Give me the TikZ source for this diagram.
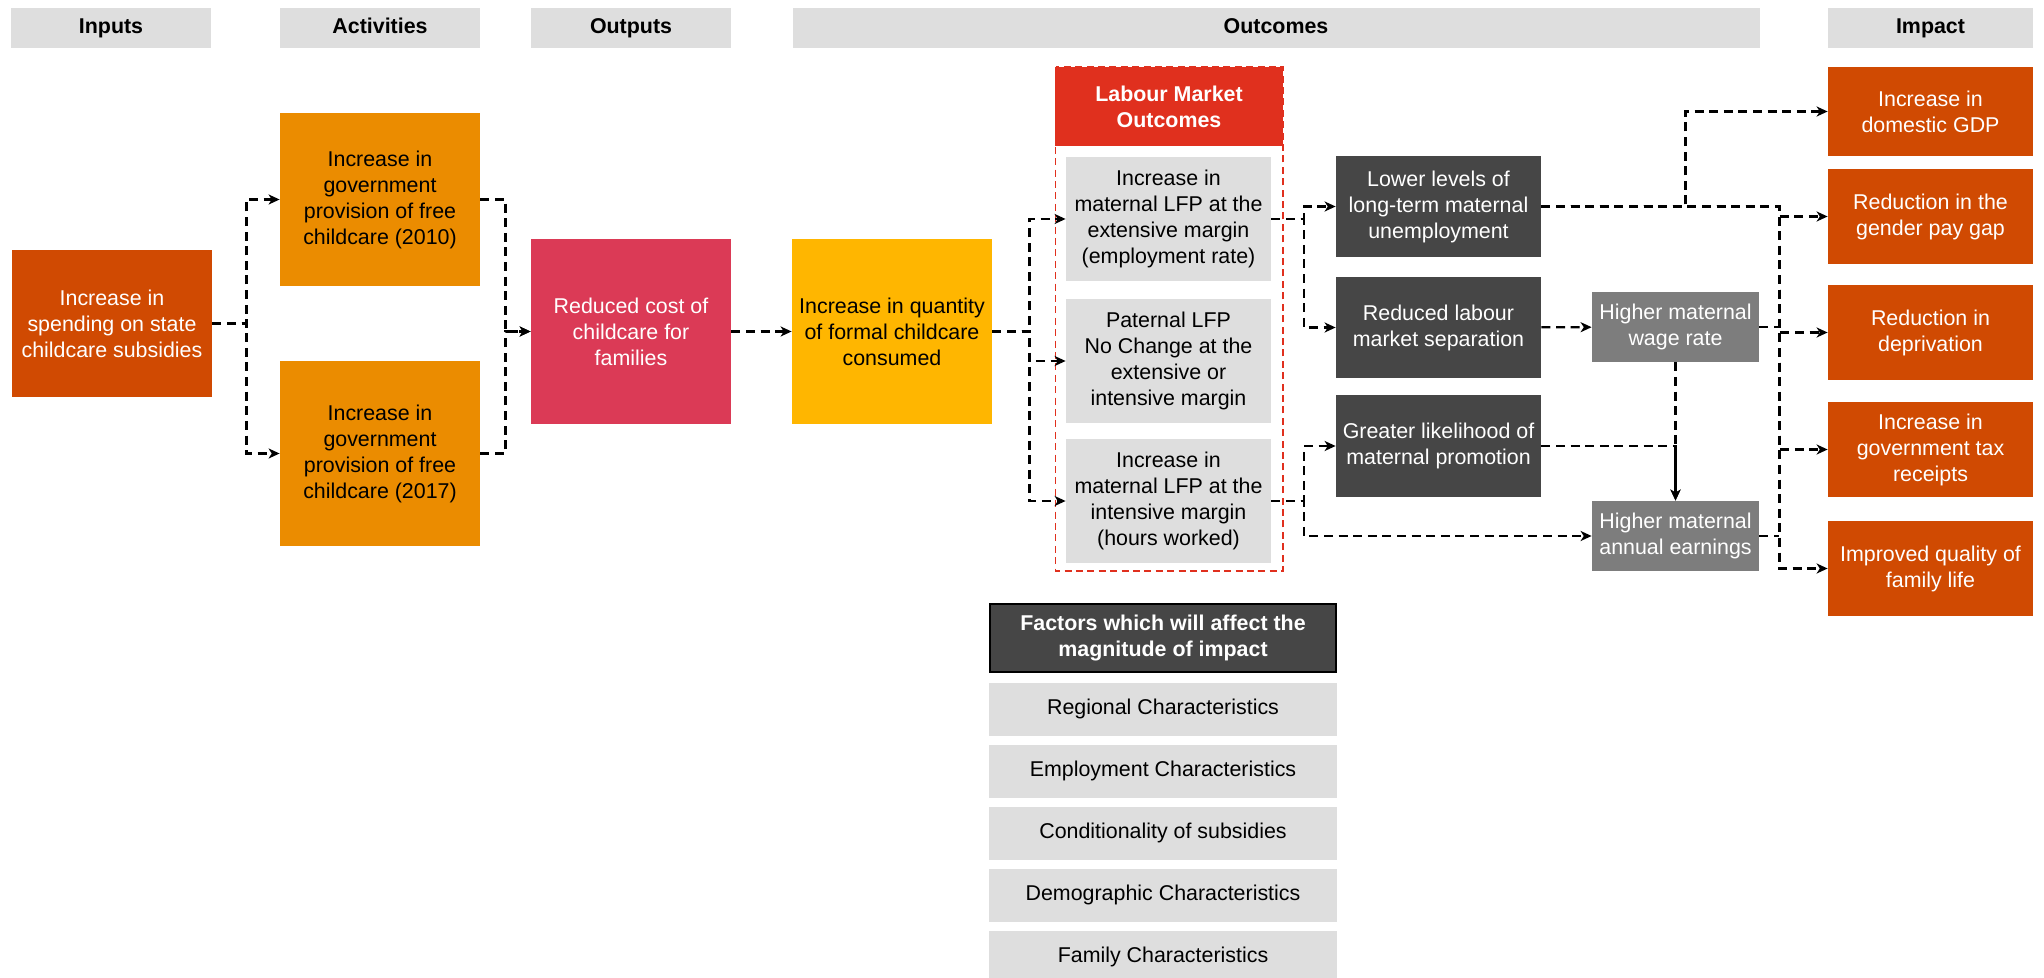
\documentclass[tikz,border=0pt]{standalone}
\usepackage{fontspec}
\setmainfont{Liberation Sans}
\usetikzlibrary{arrows.meta}
\usetikzlibrary{positioning}

\definecolor{hdgrey}{HTML}{DEDEDE}
\definecolor{pwcorange}{HTML}{D04A02}
\definecolor{pwctangerine}{HTML}{EB8C00}
\definecolor{pwcrose}{HTML}{DB3A56}
\definecolor{pwcyellow}{HTML}{FFB600}
\definecolor{pwcred}{HTML}{E0301E}
\definecolor{darkgrey}{HTML}{464646}
\definecolor{midgrey}{HTML}{7D7D7D}

\begin{document}
\begin{tikzpicture}[x=0.5pt, y=-0.5pt,
    every node/.style={align=center, inner sep=0pt, font=\fontsize{10.7}{13}\selectfont},
    wh/.style 2 args={minimum width=#1, minimum height=#2},
    head/.style={fill=hdgrey, minimum height=20pt, text height=8pt, text depth=2.2pt,
        font=\fontsize{10.7}{13}\selectfont\bfseries},
    inbox/.style={fill=pwcorange, text=white},
    actbox/.style={fill=pwctangerine, text=black},
    lfpbox/.style={fill=hdgrey, text=black, wh={102.5pt}{62pt}},
    darkbox/.style={fill=darkgrey, text=white, wh={102.5pt}{50.5pt}},
    greybox/.style={fill=midgrey, text=white, wh={83.5pt}{35pt}},
    impbox/.style={fill=pwcorange, text=white, minimum width=102.5pt},
    flow/.style={line width=1.2pt, dash pattern=on 4.5pt off 2.8pt,
        -{Stealth[length=5.5pt, width=5pt, inset=1.6pt]}},
    link/.style={line width=1.2pt, dash pattern=on 4.5pt off 2.8pt},
]
    \useasboundingbox (0,0) rectangle (2044,978);

    % Column headers
    \node[head, minimum width=100pt] (hin) at (111,28) {Inputs};
    \node[head, minimum width=100pt] (hact) at (380,28) {Activities};
    \node[head, minimum width=100pt] (hout) at (631,28) {Outputs};
    \node[head, minimum width=483.5pt] (hoc) at (1276,28) {Outcomes};
    \node[head, minimum width=102.5pt] (himp) at (1930.5,28) {Impact};

    % Inputs, activities, outputs
    \node[inbox, wh={100pt}{73.5pt}] (inp) at (112,323.5) {Increase in\\spending on state\\childcare subsidies};
    \node[actbox, wh={100pt}{86.5pt}] (act1) at (380,199.5) {Increase in\\government\\provision of free\\childcare (2010)};
    \node[actbox, wh={100pt}{92.5pt}] (act2) at (380,453.5) {Increase in\\government\\provision of free\\childcare (2017)};
    \node[fill=pwcrose, text=white, wh={100pt}{92.5pt}] (cost) at (631,331.5) {Reduced cost of\\childcare for\\families};
    \node[fill=pwcyellow, text=black, wh={100pt}{92.5pt}] (qty) at (892,331.5) {Increase in quantity\\of formal childcare\\consumed};

    % Labour market outcomes
    \draw[pwcred, line width=0.9pt, dash pattern=on 3.5pt off 2.2pt] (1055.5,67) rectangle (1283,571);
    \node[fill=pwcred, text=white, wh={113.75pt}{39.5pt}, font=\fontsize{10.7}{13}\selectfont\bfseries] (lmo) at (1169,106.5) {Labour Market\\Outcomes};
    \node[lfpbox] (lfp1) at (1168.5,219) {Increase in\\maternal LFP at the\\extensive margin\\(employment rate)};
    \node[lfpbox] (lfp2) at (1168.5,361) {Paternal LFP\\No Change at the\\extensive or\\intensive margin};
    \node[lfpbox] (lfp3) at (1168.5,501) {Increase in\\maternal LFP at the\\intensive margin\\(hours worked)};

    \node[darkbox] (unemp) at (1438.5,206.5) {Lower levels of\\long-term maternal\\unemployment};
    \node[darkbox] (sep) at (1438.5,327.5) {Reduced labour\\market separation};
    \node[darkbox] (promo) at (1438.5,446) {Greater likelihood of\\maternal promotion};
    \node[greybox] (wage) at (1675.5,327) {Higher maternal\\wage rate};
    \node[greybox] (earn) at (1675.5,536) {Higher maternal\\annual earnings};

    % Impact
    \node[impbox, minimum height=44.5pt] (gdp) at (1930.5,111.5) {Increase in\\domestic GDP};
    \node[impbox, minimum height=47.5pt] (gap) at (1930.5,216.5) {Reduction in the\\gender pay gap};
    \node[impbox, minimum height=47.5pt] (depr) at (1930.5,332.5) {Reduction in\\deprivation};
    \node[impbox, minimum height=47.5pt] (tax) at (1930.5,449.5) {Increase in\\government tax\\receipts};
    \node[impbox, minimum height=47.5pt] (life) at (1930.5,568.5) {Improved quality of\\family life};

    % Factors
    \node[fill=darkgrey, draw=black, line width=0.7pt, text=white, wh={173pt}{34pt}, font=\fontsize{10.7}{13}\selectfont\bfseries] (fac) at (1163,638) {Factors which will affect the\\magnitude of impact};
    \foreach \i/\yc/\txt in {1/709.25/Regional Characteristics, 2/771.25/Employment Characteristics,
        3/833.25/Conditionality of subsidies, 4/895.25/Demographic Characteristics, 5/957.25/Family Characteristics} {
        \node[fill=hdgrey, wh={174pt}{26.25pt}] (fac\i) at (1163,\yc) {\txt};
    }

    % Connectors
    \draw[flow] (inp.east) -- ++(34,0) |- (act1.west);
    \draw[flow] (inp.east) -- ++(34,0) |- (act2.west);
    \draw[flow] (act1.east) -- ++(25,0) |- (cost.west);
    \draw[flow] (act2.east) -- ++(25,0) |- (cost.west);
    \draw[flow] (cost) -- (qty);
    \foreach \b in {lfp1,lfp2,lfp3} {
        \draw[flow] (qty.east) -- ++(37,0) |- (\b.west);
    }
    \draw[flow] (lfp1.east) -- ++(32.5,0) |- (unemp.west);
    \draw[flow] (lfp1.east) -- ++(32.5,0) |- (sep.west);
    \draw[flow] (lfp3.east) -- ++(32.5,0) |- (promo.west);
    \draw[flow] (lfp3.east) -- ++(32.5,0) |- (earn.west);
    \draw[flow] (sep) -- (wage);
    \draw[flow] (wage) -- (earn);
    \draw[flow] (promo.east) -| (earn.north);

    % to impact
    \draw[flow] (unemp.east) -- ++(144,0) |- (gdp.west);
    \foreach \b in {gap,depr,tax,life} {
        \draw[flow] (unemp.east) -- ++(238,0) |- (\b.west);
    }
    \draw[link] (wage.east) -- ++(20,0);
    \draw[link] (earn.east) -- ++(20,0);
\end{tikzpicture}
\end{document}
